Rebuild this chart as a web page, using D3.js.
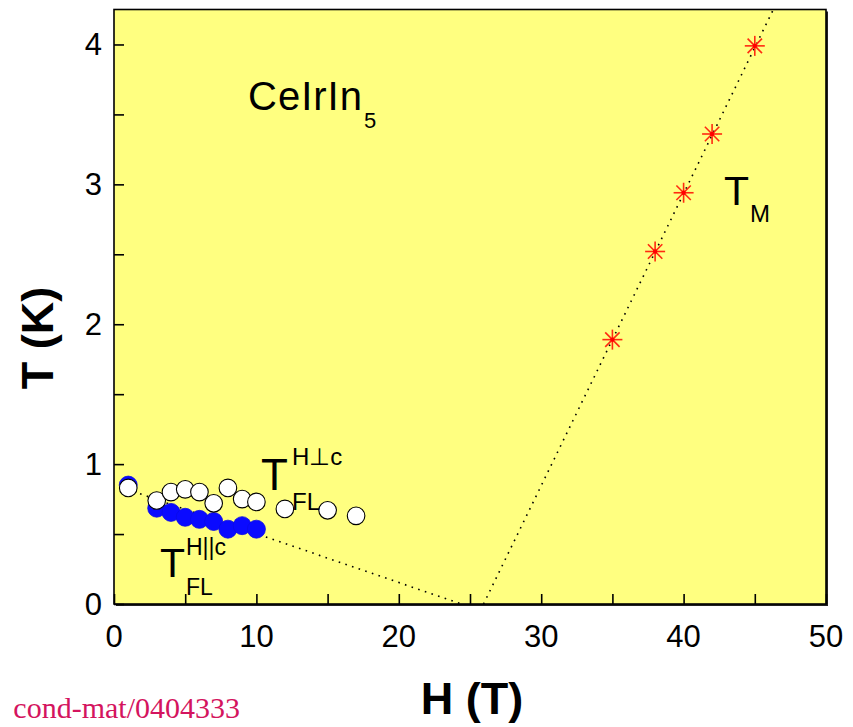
<!DOCTYPE html>
<html>
<head>
<meta charset="utf-8">
<script src="https://cdn.jsdelivr.net/npm/d3@7"></script>
<style>
  body { margin: 0; background: #fff; }
  svg { display: block; }
  text { font-family: "Liberation Sans", Arial, sans-serif; }
</style>
</head>
<body>
<svg id="chart" width="853" height="727"></svg>
<script>
// Fermi-liquid temperature, field perpendicular to c (open circles)
const perpField = [1, 3, 4, 5, 6, 7, 8, 9, 10, 12, 15, 17];
const perpTFL   = [0.83, 0.74, 0.80, 0.82, 0.80, 0.72, 0.83, 0.75, 0.73, 0.68, 0.67, 0.63];
// Fermi-liquid temperature, field parallel to c (filled circles)
const paraField = [1, 3, 4, 5, 6, 7, 8, 9, 10];
const paraTFL   = [0.85, 0.685, 0.655, 0.62, 0.605, 0.59, 0.535, 0.56, 0.535];
// metamagnetic transition (stars)
const metaField = [35, 38, 40, 42, 45];
const metaTM    = [1.89, 2.52, 2.94, 3.36, 3.99];
// dotted guide lines [H, T]
const flGuide = [[0.9, 0.82], [24.4, 0]];
const tmGuide = [[25.95, 0], [46.3, 4.25]];
// axis ticks
const xTicks = [0, 10, 20, 30, 40, 50];
const yTicks = [0, 1, 2, 3, 4];
const xMinor = d3.range(0, 51, 5);
const yMinor = d3.range(0, 4.01, 0.5);

const svg = d3.select("#chart");
const L = 114, T = 9.5, W = 712, H = 594.5;

const x = d3.scaleLinear().domain([0, 50]).range([L, L + W]);
const y = d3.scaleLinear().domain([0, 4.25]).range([T + H, T]);

// frame shadow + yellow panel
svg.append("rect").attr("x", L + 2).attr("y", T + 2).attr("width", W).attr("height", H)
  .attr("fill", "#222");
svg.append("rect").attr("x", L).attr("y", T).attr("width", W).attr("height", H)
  .attr("fill", "#ffff80");

svg.append("clipPath").attr("id", "plotClip")
  .append("rect").attr("x", L).attr("y", T).attr("width", W).attr("height", H);

// inward ticks
const xAxis = d3.axisBottom(x).tickValues(xMinor).tickSizeInner(-10).tickSizeOuter(0).tickFormat("");
const yAxis = d3.axisLeft(y).tickValues(yMinor).tickSizeInner(-10).tickSizeOuter(0).tickFormat("");
const gx = svg.append("g").attr("transform", `translate(0,${T + H})`).call(xAxis);
const gy = svg.append("g").attr("transform", `translate(${L},0)`).call(yAxis);
[gx, gy].forEach(g => {
  g.select(".domain").remove();
  g.selectAll(".tick line").attr("stroke", "#000").attr("stroke-width", 1.6);
});

// tick labels
svg.append("g").selectAll("text").data(xTicks).join("text")
  .attr("x", d => x(d)).attr("y", 647)
  .attr("text-anchor", "middle").attr("font-size", 31).attr("fill", "#000")
  .text(d => d);
svg.append("g").selectAll("text").data(yTicks).join("text")
  .attr("x", 102).attr("y", d => y(d) + 11)
  .attr("text-anchor", "end").attr("font-size", 31).attr("fill", "#000")
  .text(d => d);

// dotted guides
const line = d3.line().x(d => x(d[0])).y(d => y(d[1]));
const guides = svg.append("g").attr("clip-path", "url(#plotClip)");
[flGuide, tmGuide].forEach(g => {
  guides.append("path").attr("d", line(g))
    .attr("fill", "none").attr("stroke", "#000").attr("stroke-width", 1.6)
    .attr("stroke-dasharray", "1.6,5.4");
});

// filled circles (H || c)
svg.append("g").selectAll("circle").data(paraField).join("circle")
  .attr("cx", d => x(d)).attr("cy", (d, i) => y(paraTFL[i])).attr("r", 9)
  .attr("fill", "#0a0aff").attr("stroke", "#0a0ae6").attr("stroke-width", 0.8);

// open circles (H ⊥ c)
svg.append("g").selectAll("circle").data(perpField).join("circle")
  .attr("cx", d => x(d)).attr("cy", (d, i) => y(perpTFL[i])).attr("r", 8.8)
  .attr("fill", "#fff").attr("stroke", "#000").attr("stroke-width", 1.1);

// stars
const star = svg.append("g").selectAll("g").data(metaField).join("g")
  .attr("transform", (d, i) => `translate(${x(d)},${y(metaTM[i])})`);
const arm = 10, diag = 7.2;
[[-arm, 0, arm, 0], [0, -arm, 0, arm], [-diag, -diag, diag, diag], [-diag, diag, diag, -diag]]
  .forEach(s => {
    star.append("line").attr("x1", s[0]).attr("y1", s[1]).attr("x2", s[2]).attr("y2", s[3])
      .attr("stroke", "#ff2a10").attr("stroke-width", 1.6);
  });
star.append("circle").attr("r", 2.2).attr("fill", "#ff0000");

// panel border (drawn over the data so the edge stays crisp)
svg.append("rect").attr("x", L).attr("y", T).attr("width", W).attr("height", H)
  .attr("fill", "none").attr("stroke", "#000").attr("stroke-width", 1.6);

// annotations
function label(txt, xp, yp, size, opts = {}) {
  const t = svg.append("text").attr("x", xp).attr("y", yp)
    .attr("font-size", size).attr("fill", opts.fill || "#000").text(txt);
  if (opts.anchor) t.attr("text-anchor", opts.anchor);
  if (opts.weight) t.attr("font-weight", opts.weight);
  if (opts.family) t.style("font-family", opts.family);
  if (opts.spacing) t.attr("letter-spacing", opts.spacing);
  return t;
}
label("CeIrIn", 248, 110, 40, { spacing: 1 });
label("5", 364, 128, 22);

label("T", 724, 205, 41);
label("M", 750, 222, 24);

label("T", 261, 490, 44);
label("H\u22A5c", 292, 465, 24);
label("FL", 292, 510, 24);

label("T", 160, 577, 41);
label("H||c", 186, 555, 23);
label("FL", 186, 595, 23);

// axis titles
label("H (T)", 472, 714, 45, { anchor: "middle", weight: "bold" });
svg.append("text").attr("transform", "translate(53,338) rotate(-90)")
  .attr("text-anchor", "middle").attr("font-size", 45).attr("font-weight", "bold")
  .attr("fill", "#000").text("T (K)");

// source reference
label("cond-mat/0404333", 240, 718, 30,
  { anchor: "end", fill: "#d4145e", family: "'Liberation Serif', 'Times New Roman', serif" });
</script>
</body>
</html>
